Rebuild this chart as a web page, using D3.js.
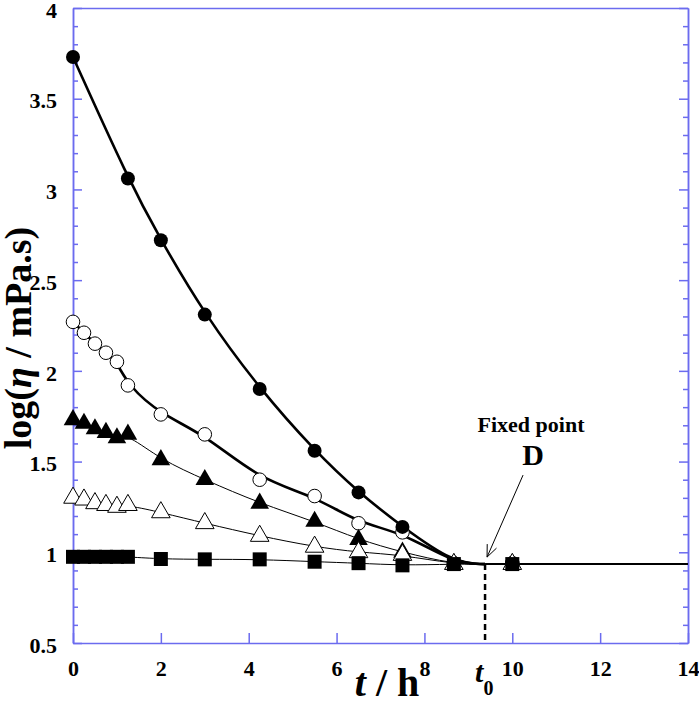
<!DOCTYPE html>
<html>
<head>
<meta charset="utf-8">
<script src="https://cdn.jsdelivr.net/npm/d3@7"></script>
<style>
  body { margin: 0; background: #fff; }
  svg text { font-family: "Liberation Serif", "Times New Roman", serif !important; font-weight: bold; }
</style>
</head>
<body>
<div id="chart"></div>
<script>
// time points (h)
const tFilledCircle = [0, 1.25, 2, 3, 4.25, 5.5, 6.5, 7.5, 8.67, 10];
const tOthers = [0, 0.25, 0.5, 0.75, 1, 1.25, 2, 3, 4.25, 5.5, 6.5, 7.5, 8.67, 10];

// log(eta / mPa.s)
const filledCircle = [3.73, 3.06, 2.72, 2.31, 1.90, 1.56, 1.33, 1.14, 0.94, 0.94];
const openCircle   = [2.27, 2.21, 2.15, 2.10, 2.05, 1.92, 1.76, 1.65, 1.40, 1.31, 1.16, 1.11, 0.94, 0.94];
const filledTri    = [1.73, 1.71, 1.68, 1.66, 1.63, 1.65, 1.51, 1.40, 1.27, 1.17, 1.07, 1.00, 0.935, 0.935];
const openTri      = [1.30, 1.29, 1.27, 1.26, 1.25, 1.26, 1.22, 1.16, 1.09, 1.03, 1.00, 0.985, 0.935, 0.935];
const filledSquare = [0.975, 0.975, 0.975, 0.975, 0.975, 0.975, 0.963, 0.961, 0.961, 0.948, 0.94, 0.928, 0.935, 0.935];

const fixedT = 9.38, fixedV = 0.935;   // fixed point D
const xTicks = [0, 2, 4, 6, 8, 10, 12, 14];
const yTicks = [0.5, 1, 1.5, 2, 2.5, 3, 3.5, 4];

const axisColor = "#6b6bef";
const serif = '"Liberation Serif", "Times New Roman", serif';

const svg = d3.select("#chart").append("svg")
  .attr("width", 699)
  .attr("height", 702)
  .attr("font-family", serif);

const x = d3.scaleLinear().domain([0, 14]).range([73, 688]);
const y = d3.scaleLinear().domain([0.5, 4]).range([643, 8]);

// axes (ticks pointing inward)
const minorY = d3.range(0.5, 4.0001, 0.1).filter(v => Math.abs(v * 2 - Math.round(v * 2)) > 0.01);

function styleAxis(g) {
  g.attr("font-family", serif).attr("font-size", 22);
  g.selectAll("path, line").attr("stroke", axisColor).attr("stroke-width", 1.5);
  g.selectAll("text").attr("fill", "#000")
    .style("font-family", serif).style("font-weight", "bold").style("font-size", "22px");
}

svg.append("g").attr("transform", "translate(0,643)")
  .call(d3.axisBottom(x).tickValues(xTicks).tickFormat(d3.format("d")).tickSize(-10).tickSizeOuter(0).tickPadding(17))
  .call(styleAxis);
svg.append("g").attr("transform", "translate(0,8)")
  .call(d3.axisTop(x).tickValues([]).tickSizeOuter(0))
  .call(styleAxis);
svg.append("g").attr("transform", "translate(73,0)")
  .call(d3.axisLeft(y).tickValues(yTicks).tickFormat(d => d).tickSize(-9).tickSizeOuter(0).tickPadding(16))
  .call(styleAxis)
  .selectAll("text").attr("dy", "0.42em");
svg.append("g").attr("transform", "translate(73,0)")
  .call(d3.axisLeft(y).tickValues(minorY).tickFormat("").tickSize(-5).tickSizeOuter(0))
  .call(styleAxis);
svg.append("g").attr("transform", "translate(688,0)")
  .call(d3.axisRight(y).tickValues(yTicks).tickFormat("").tickSize(-9).tickSizeOuter(0))
  .call(styleAxis);
svg.append("g").attr("transform", "translate(688,0)")
  .call(d3.axisRight(y).tickValues(minorY).tickFormat("").tickSize(-5).tickSizeOuter(0))
  .call(styleAxis);

// fitted curves: data up to t0, then the fixed point
const line = d3.line().x(d => x(d[0])).y(d => y(d[1])).curve(d3.curveBasis);

function curvePoints(ts, vs) {
  const pts = ts.map((t, i) => [t, vs[i]]).filter(p => p[0] < fixedT);
  pts.push([fixedT, fixedV]);
  return pts;
}

const series = [
  { name: "sq", t: tOthers, v: filledSquare, w: 1 },
  { name: "otri", t: tOthers, v: openTri, w: 1 },
  { name: "ftri", t: tOthers, v: filledTri, w: 1 },
  { name: "ocirc", t: tOthers, v: openCircle, w: 2.6 },
  { name: "fcirc", t: tFilledCircle, v: filledCircle, w: 2.6 }
];

const lines = svg.append("g");
series.forEach(s => {
  lines.append("path")
    .attr("d", line(curvePoints(s.t, s.v)))
    .attr("fill", "none")
    .attr("stroke", "#000")
    .attr("stroke-width", s.w);
});
lines.append("path")
  .attr("d", d3.line()([[x(fixedT), y(fixedV)], [x(14), y(fixedV)]]))
  .attr("stroke", "#000").attr("stroke-width", 2);

// markers
const marks = svg.append("g");
function pts(ts, vs) { return ts.map((t, i) => ({ t, v: vs[i] })); }

marks.selectAll(".ocirc").data(pts(tOthers, openCircle)).join("circle")
  .attr("cx", d => x(d.t)).attr("cy", d => y(d.v)).attr("r", 6.8)
  .attr("fill", "#fff").attr("stroke", "#000").attr("stroke-width", 1);

marks.selectAll(".fcirc").data(pts(tFilledCircle, filledCircle)).join("circle")
  .attr("cx", d => x(d.t)).attr("cy", d => y(d.v)).attr("r", 7)
  .attr("fill", "#000");

const tri = d3.symbol().type(d3.symbolTriangle).size(150);
marks.selectAll(".ftri").data(pts(tOthers, filledTri)).join("path")
  .attr("transform", d => `translate(${x(d.t)},${y(d.v)})`)
  .attr("d", tri).attr("fill", "#000");

marks.selectAll(".otri").data(pts(tOthers, openTri)).join("path")
  .attr("transform", d => `translate(${x(d.t)},${y(d.v)})`)
  .attr("d", tri).attr("fill", "#fff").attr("stroke", "#000").attr("stroke-width", 1);

marks.selectAll(".sq").data(pts(tOthers, filledSquare)).join("rect")
  .attr("x", d => x(d.t) - 7).attr("y", d => y(d.v) - 7)
  .attr("width", 14).attr("height", 14).attr("fill", "#000");

// t0 dashed line
svg.append("line")
  .attr("x1", x(fixedT)).attr("x2", x(fixedT))
  .attr("y1", y(fixedV)).attr("y2", y(0.5))
  .attr("stroke", "#000").attr("stroke-width", 2.5)
  .attr("stroke-dasharray", "6,4");

// arrow to fixed point
const tipX = x(fixedT) + 2, tipY = y(fixedV) - 7;
const startX = x(fixedT) + 38, startY = tipY - 82;
svg.append("line")
  .attr("x1", startX).attr("y1", startY).attr("x2", tipX).attr("y2", tipY)
  .attr("stroke", "#000").attr("stroke-width", 1);
const ang = Math.atan2(tipY - startY, tipX - startX);
[0.4, -0.4].forEach(da => {
  svg.append("line")
    .attr("x1", tipX).attr("y1", tipY)
    .attr("x2", tipX - 13 * Math.cos(ang + da)).attr("y2", tipY - 13 * Math.sin(ang + da))
    .attr("stroke", "#000").attr("stroke-width", 1);
});

svg.append("text").attr("x", 531).attr("y", 432).attr("text-anchor", "middle")
  .style("font-size", "22px").text("Fixed point");
svg.append("text").attr("x", 533).attr("y", 465).attr("text-anchor", "middle")
  .style("font-size", "30px").text("D");

// axis titles
const xt = svg.append("text").attr("x", 387).attr("y", 696).attr("text-anchor", "middle")
  .style("font-size", "40px");
xt.append("tspan").style("font-style", "italic").text("t");
xt.append("tspan").text(" / h");

const t0 = svg.append("text").attr("x", x(fixedT) - 10).attr("y", 682).style("font-size", "30px");
t0.append("tspan").style("font-style", "italic").text("t");
t0.append("tspan").attr("dy", 13).style("font-size", "20px").text("0");

const yt = svg.append("text")
  .attr("transform", "translate(31,338) rotate(-90)")
  .attr("text-anchor", "middle")
  .style("font-size", "38px");
yt.append("tspan").text("log(");
yt.append("tspan").style("font-style", "italic").text("η");
yt.append("tspan").text(" / mPa.s)");
</script>
</body>
</html>
